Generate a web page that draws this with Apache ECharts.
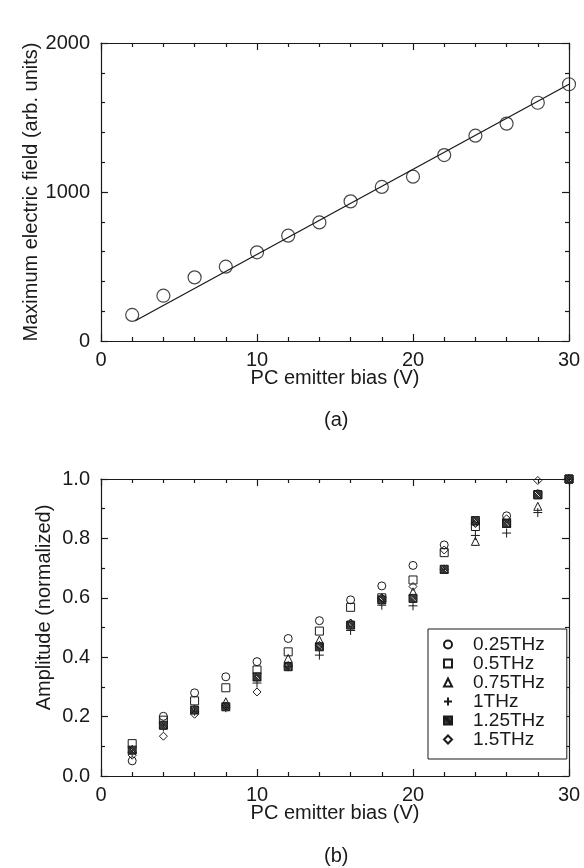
<!DOCTYPE html>
<html>
<head>
<meta charset="utf-8">
<script src="https://cdn.jsdelivr.net/npm/echarts@6/dist/echarts.min.js"></script>
<style>
html,body{margin:0;padding:0;background:#fff;}
#chart{width:584px;height:868px;}
</style>
</head>
<body>
<div id="chart"></div>
<script>
// ---- data ----
const biasV = [2, 4, 6, 8, 10, 12, 14, 16, 18, 20, 22, 24, 26, 28, 30];
const maxField = [175, 304, 427, 499, 595, 707, 796, 937, 1034, 1103, 1248, 1378, 1459, 1599, 1723];
const fitBias = [2.2, 30];
const fitField = [136, 1723];

const freqNames = ['0.25THz', '0.5THz', '0.75THz', '1THz', '1.25THz', '1.5THz'];
const amp025 = [0.051, 0.201, 0.280, 0.334, 0.385, 0.463, 0.523, 0.593, 0.640, 0.709, 0.778, 0.855, 0.876, 0.950, 1.0];
const amp050 = [0.109, 0.188, 0.253, 0.297, 0.357, 0.418, 0.488, 0.568, 0.600, 0.660, 0.752, 0.840, 0.851, 0.947, 1.0];
const amp075 = [0.090, 0.172, 0.225, 0.250, 0.334, 0.396, 0.458, 0.515, 0.600, 0.620, 0.696, 0.790, 0.851, 0.908, 1.0];
const amp100 = [0.080, 0.165, 0.218, 0.230, 0.313, 0.368, 0.407, 0.490, 0.575, 0.573, 0.696, 0.810, 0.818, 0.887, 1.0];
const amp125 = [0.087, 0.171, 0.222, 0.233, 0.334, 0.368, 0.435, 0.508, 0.593, 0.598, 0.696, 0.860, 0.851, 0.947, 1.0];
const amp150 = [0.070, 0.134, 0.208, 0.236, 0.283, 0.372, 0.440, 0.515, 0.600, 0.638, 0.761, 0.850, 0.866, 0.995, 1.0];
const ampSeries = [amp025, amp050, amp075, amp100, amp125, amp150];

const fieldTicks = {min: 0, max: 2000, interval: 1000};
const ampTicks = {min: 0, max: 1, interval: 0.2};
const biasTicks = {min: 0, max: 30, interval: 10};

// ---- styling ----
const FONT = 'Liberation Sans, Arial, Helvetica, sans-serif';
const INK = '#1a1a1a';
const lineSt = {color: INK, width: 1.2};

function zip(xs, ys) { return xs.map((x, i) => [x, ys[i]]); }

function xAx(grid, pos, withLabels, nameGap) {
  const a = {
    gridIndex: grid, type: 'value', position: pos,
    min: biasTicks.min, max: biasTicks.max, interval: biasTicks.interval,
    axisLine: {show: true, onZero: false, lineStyle: lineSt},
    axisTick: {show: true, inside: true, length: 7, lineStyle: lineSt},
    minorTick: {show: true, splitNumber: 5, length: 4, lineStyle: lineSt},
    splitLine: {show: false}, minorSplitLine: {show: false},
    axisLabel: {show: withLabels, margin: 9, fontSize: 20, color: INK, fontFamily: FONT, formatter: v => String(v)}
  };
  if (withLabels) {
    a.name = 'PC emitter bias (V)';
    a.nameLocation = 'middle';
    a.nameGap = nameGap;
    a.nameMoveOverlap = false;
    a.nameTextStyle = {fontSize: 20, color: INK, fontFamily: FONT};
  }
  return a;
}
function yAx(grid, pos, ticks, minorSplit, withLabels, name, nameGap, fmt, namePad) {
  const a = {
    gridIndex: grid, type: 'value', position: pos,
    min: ticks.min, max: ticks.max, interval: ticks.interval,
    axisLine: {show: true, onZero: false, lineStyle: lineSt},
    axisTick: {show: true, inside: true, length: 7, lineStyle: lineSt},
    minorTick: {show: true, splitNumber: minorSplit, length: 4, lineStyle: lineSt},
    splitLine: {show: false}, minorSplitLine: {show: false},
    axisLabel: {show: withLabels, margin: 11, fontSize: 20, color: INK, fontFamily: FONT, formatter: fmt}
  };
  if (withLabels) {
    a.name = name;
    a.nameLocation = 'middle';
    a.nameGap = nameGap;
    a.nameMoveOverlap = false;
    a.nameTextStyle = {fontSize: 20, color: INK, fontFamily: FONT, padding: namePad};
  }
  return a;
}

const plusPath = 'path://M5,0L5,10M0,5L10,5';
const hatchPath = 'path://M0,0L10,0L10,10L0,10Z M7.8,9L9,9L9,7.8L2.2,1L1,1L1,2.2Z';
const symbols = ['circle', 'rect', 'triangle', plusPath, hatchPath, 'diamond'];
const fills = ['rgba(0,0,0,0)', 'rgba(0,0,0,0)', 'rgba(0,0,0,0)', 'rgba(0,0,0,0)', '#3a3a3a', 'rgba(0,0,0,0)'];
const sizes = [8, 8, 8, 9, 8, 8];

const ampScatter = freqNames.map((n, k) => ({
  name: n, type: 'scatter', xAxisIndex: 2, yAxisIndex: 2,
  data: zip(biasV, ampSeries[k]),
  symbol: symbols[k], symbolSize: sizes[k],
  itemStyle: {color: fills[k], borderColor: INK, borderWidth: 1, opacity: 1},
  emphasis: {disabled: true}
}));

const option = {
  animation: false,
  backgroundColor: '#fff',
  grid: [
    {left: 101, right: 15, top: 43, height: 298},
    {left: 101, right: 15, top: 479, height: 297}
  ],
  xAxis: [
    xAx(0, 'bottom', true, 27),
    xAx(0, 'top', false),
    xAx(1, 'bottom', true, 27),
    xAx(1, 'top', false)
  ],
  yAxis: [
    yAx(0, 'left', fieldTicks, 5, true, 'Maximum electric field (arb. units)', 60, v => String(v), 0),
    yAx(0, 'right', fieldTicks, 5, false),
    yAx(1, 'left', ampTicks, 2, true, 'Amplitude (normalized)', 47, v => v.toFixed(1), [0, 0, 0, 40]),
    yAx(1, 'right', ampTicks, 2, false)
  ],
  legend: {
    data: freqNames,
    orient: 'vertical',
    left: 428, top: 629,
    padding: [6, 22, 10, 15],
    itemGap: 0,
    itemWidth: 8, itemHeight: 8,
    symbolKeepAspect: true,
    borderColor: INK, borderWidth: 1,
    backgroundColor: '#fff',
    selectedMode: false,
    textStyle: {fontSize: 19, lineHeight: 19, color: INK, fontFamily: FONT, padding: [0, 0, 0, 16]}
  },
  series: [
    {
      type: 'scatter', xAxisIndex: 0, yAxisIndex: 0,
      data: zip(biasV, maxField),
      symbol: 'circle', symbolSize: 13,
      itemStyle: {color: 'rgba(0,0,0,0)', borderColor: INK, borderWidth: 1.2},
      emphasis: {disabled: true}
    },
    {
      type: 'line', xAxisIndex: 0, yAxisIndex: 0,
      data: zip(fitBias, fitField),
      showSymbol: false, symbol: 'none',
      lineStyle: {color: INK, width: 1.3},
      emphasis: {disabled: true}
    }
  ].concat(ampScatter),
  graphic: [
    {type: 'text', left: 335 - 11, top: 410, style: {text: '(a)', fontSize: 20, fill: INK, fontFamily: FONT}},
    {type: 'text', left: 335 - 11, top: 846, style: {text: '(b)', fontSize: 20, fill: INK, fontFamily: FONT}}
  ]
};

const chart = echarts.init(document.getElementById('chart'), null, {renderer: 'canvas'});
chart.setOption(option);
</script>
</body>
</html>
